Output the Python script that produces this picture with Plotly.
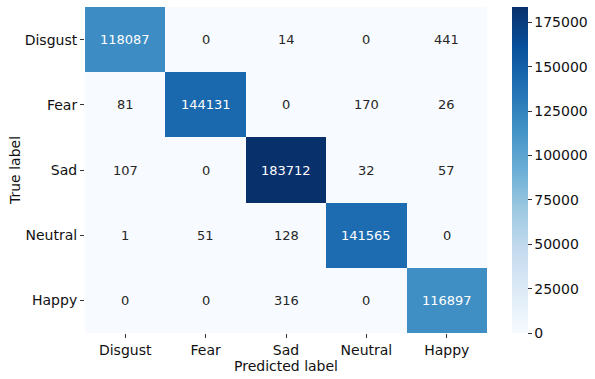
import plotly.graph_objects as go

labels = ["Disgust", "Fear", "Sad", "Neutral", "Happy"]
cm = [
    [118087, 0, 14, 0, 441],
    [81, 144131, 0, 170, 26],
    [107, 0, 183712, 32, 57],
    [1, 51, 128, 141565, 0],
    [0, 0, 316, 0, 116897],
]
cbar_ticks = [0, 25000, 50000, 75000, 100000, 125000, 150000, 175000]

blues = [
    [0.0, "rgb(247,251,255)"], [0.125, "rgb(222,235,247)"], [0.25, "rgb(198,219,239)"],
    [0.375, "rgb(158,202,225)"], [0.5, "rgb(107,174,214)"], [0.625, "rgb(66,146,198)"],
    [0.75, "rgb(33,113,181)"], [0.875, "rgb(8,81,156)"], [1.0, "rgb(8,48,107)"],
]

zmax = max(max(r) for r in cm)

fig = go.Figure(go.Heatmap(
    z=cm, x=labels, y=labels, colorscale=blues, zmin=0, zmax=zmax,
    colorbar=dict(
        x=1.062, xanchor="left", xpad=0, y=0, yanchor="bottom", ypad=0,
        len=1, lenmode="fraction",
        thickness=16, outlinewidth=0, tickvals=cbar_ticks, tickformat="d",
        ticks="outside", ticklen=4, tickcolor="#333",
        tickfont=dict(size=14, color="#111"),
    ),
))

annotations = []
for i, row in enumerate(cm):
    for j, v in enumerate(row):
        annotations.append(dict(
            x=labels[j], y=labels[i], text=str(v), showarrow=False,
            font=dict(size=13, color="white" if v > zmax / 2 else "#262626"),
        ))

fig.update_layout(
    width=595, height=379,
    margin=dict(l=85, r=108, t=7, b=46, autoexpand=False),
    paper_bgcolor="white", plot_bgcolor="white",
    font=dict(family="DejaVu Sans", color="#111"),
    annotations=annotations,
    xaxis=dict(
        title=dict(text="Predicted label", font=dict(size=14), standoff=0),
        tickfont=dict(size=14), ticks="outside", ticklen=4, tickcolor="#333",
        showgrid=False, zeroline=False, automargin=False,
    ),
    yaxis=dict(
        title=dict(text="True label", font=dict(size=14), standoff=0),
        tickfont=dict(size=14), ticks="outside", ticklen=4, tickcolor="#333",
        autorange="reversed", showgrid=False, zeroline=False, automargin=False,
    ),
)

# drop the browser's default 8px body margin so the figure sits at the corner
fig.write_html("out.html", config={"displayModeBar": False},
               post_script="document.body.style.margin='0';")
